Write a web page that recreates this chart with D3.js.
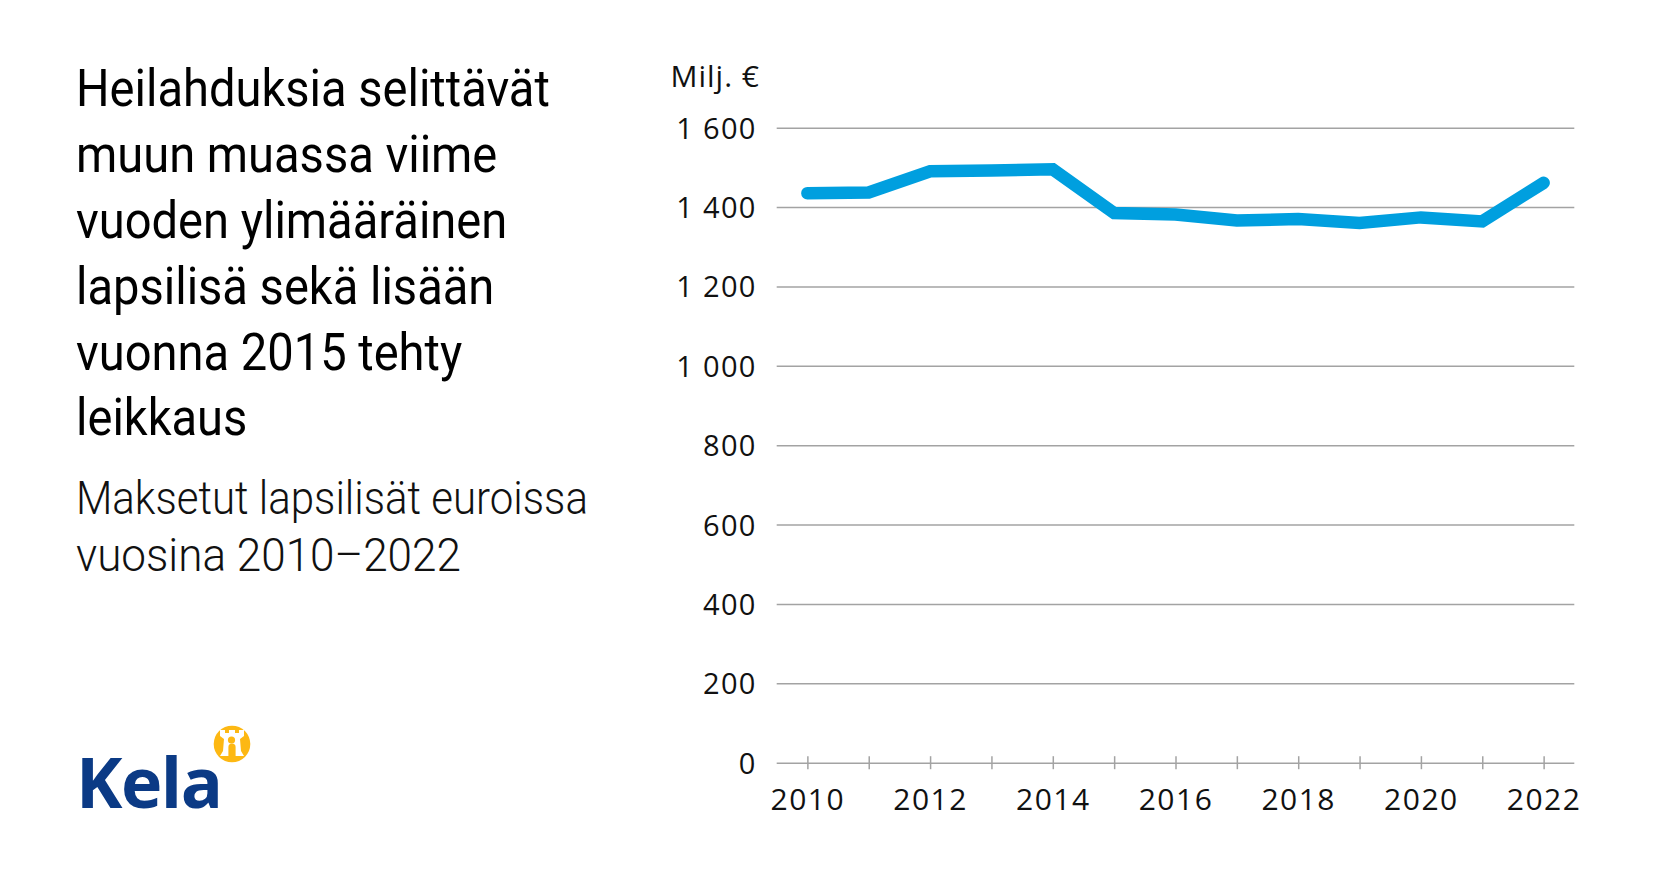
<!DOCTYPE html>
<html>
<head>
<meta charset="utf-8">
<script src="https://cdn.jsdelivr.net/npm/d3@7"></script>
<style>
  html, body { margin: 0; padding: 0; background: #fff; }
  svg { display: block; }
</style>
</head>
<body>
<svg id="chart" width="1662" height="870"></svg>
<script>
// ---- data ----
const years = [2010, 2011, 2012, 2013, 2014, 2015, 2016, 2017, 2018, 2019, 2020, 2021, 2022];
const values = [1435, 1437, 1490, 1492, 1495, 1385, 1381, 1366, 1370, 1360, 1374, 1364, 1461];
const yTicks = [0, 200, 400, 600, 800, 1000, 1200, 1400, 1600];
const yTickLabels = ["0", "200", "400", "600", "800", "1 000", "1 200", "1 400", "1 600"];
const xLabelYears = [2010, 2012, 2014, 2016, 2018, 2020, 2022];
const titleLines = ["Heilahduksia selittävät", "muun muassa viime", "vuoden ylimääräinen", "lapsilisä sekä lisään", "vuonna 2015 tehty", "leikkaus"];
const subtitleLines = ["Maksetut lapsilisät euroissa", "vuosina 2010–2022"];
const unitLabel = "Milj. €";
const logoText = "Kela";

// ---- layout ----
const svg = d3.select("#chart");
const plotLeft = 776.7, plotRight = 1574.3, plotTop = 127.7, plotBottom = 762.7;

const x = d3.scalePoint().domain(years).range([plotLeft, plotRight]).padding(0.5);
const y = d3.scaleLinear().domain([0, 1600]).range([plotBottom, plotTop]);

const axisFont = "'Open Sans', 'Noto Sans', sans-serif";

// y axis with gridlines
const yAxis = d3.axisLeft(y)
  .tickValues(yTicks)
  .tickFormat((d, i) => yTickLabels[i])
  .tickSizeInner(-(plotRight - plotLeft))
  .tickSizeOuter(0)
  .tickPadding(20);

const gy = svg.append("g").attr("transform", `translate(${plotLeft},0)`).call(yAxis);
gy.select(".domain").remove();
gy.selectAll(".tick line").attr("stroke", "#a3a3a3").attr("stroke-width", 1.5);
gy.selectAll(".tick text")
  .attr("font-family", axisFont).attr("font-size", 29).attr("fill", "#111")
  .attr("letter-spacing", "1.3px").attr("dy", "0.36em");

// x axis ticks + labels
const xAxis = d3.axisBottom(x)
  .tickValues(years)
  .tickFormat(d => xLabelYears.includes(d) ? d : "")
  .tickSizeOuter(0);
const gx = svg.append("g").attr("transform", `translate(0,${plotBottom})`).call(xAxis);
gx.select(".domain").remove();
gx.selectAll(".tick line").attr("y1", -6.5).attr("y2", 6.5).attr("stroke", "#a3a3a3").attr("stroke-width", 1.5);
gx.selectAll(".tick text")
  .attr("font-family", axisFont).attr("font-size", 30).attr("fill", "#111")
  .attr("letter-spacing", "1.5px").attr("y", 47).attr("dy", 0);

// unit label
svg.append("text")
  .attr("x", 760).attr("y", 87)
  .attr("text-anchor", "end")
  .attr("font-family", axisFont).attr("font-size", 30).attr("fill", "#111")
  .attr("letter-spacing", "1px")
  .text(unitLabel);

// line
const line = d3.line().x((d, i) => x(years[i])).y(d => y(d));
svg.append("path")
  .datum(values)
  .attr("d", line)
  .attr("fill", "none")
  .attr("stroke", "#009fdf")
  .attr("stroke-width", 12.5)
  .attr("stroke-linecap", "round")
  .attr("stroke-linejoin", "miter");

// ---- title ----
const titleG = svg.append("g");
const titleText = titleG.append("text")
  .attr("font-family", "Roboto, 'Noto Sans', sans-serif")
  .attr("font-weight", 400)
  .attr("font-size", 52)
  .attr("fill", "#000");
titleLines.forEach((t, i) => {
  titleText.append("tspan").attr("x", 0).attr("y", 106 + i * 65.9).text(t);
});
const tw = titleText.select("tspan").node().getComputedTextLength();
titleG.attr("transform", `translate(76,0) scale(${474 / tw},1)`);

// ---- subtitle (each line fitted separately) ----
const subTargets = [512, 385];
subtitleLines.forEach((t, i) => {
  const g = svg.append("g");
  const txt = g.append("text")
    .attr("x", 0).attr("y", 514 + i * 57)
    .attr("font-family", "Roboto, 'Noto Sans', sans-serif")
    .attr("font-weight", 300)
    .attr("font-size", 46)
    .attr("fill", "#111")
    .text(t);
  const w = txt.node().getComputedTextLength();
  g.attr("transform", `translate(76,0) scale(${subTargets[i] / w},1)`);
});

// ---- Kela logo ----
const logo = svg.append("g");
logo.append("text")
  .attr("x", 76).attr("y", 808)
  .attr("font-family", "'Open Sans', sans-serif")
  .attr("font-weight", 700)
  .attr("font-size", 70)
  .attr("letter-spacing", "-1.5px")
  .attr("fill", "#0b3a85")
  .text(logoText);
const cx = 232, cy = 744, r = 18.3;
logo.append("circle").attr("cx", cx).attr("cy", cy).attr("r", r).attr("fill", "#fdb813");
const p = d3.path();
p.moveTo(cx - 12, cy - 14);
p.lineTo(cx - 7, cy - 14); p.lineTo(cx - 7, cy - 11); p.lineTo(cx - 3, cy - 11); p.lineTo(cx - 3, cy - 14);
p.lineTo(cx + 3, cy - 14); p.lineTo(cx + 3, cy - 11); p.lineTo(cx + 7, cy - 11); p.lineTo(cx + 7, cy - 14);
p.lineTo(cx + 12, cy - 14);
p.lineTo(cx + 12, cy - 8);
p.lineTo(cx + 8, cy - 5);
p.lineTo(cx + 9, cy + 7);
p.lineTo(cx + 12, cy + 12);
p.lineTo(cx - 12, cy + 12);
p.lineTo(cx - 9, cy + 7);
p.lineTo(cx - 8, cy - 5);
p.lineTo(cx - 12, cy - 8);
p.closePath();
logo.append("path").attr("d", p.toString()).attr("fill", "#fff");
logo.append("circle").attr("cx", cx - 0.5).attr("cy", cy - 4).attr("r", 3.6).attr("fill", "#fdb813");
const a = d3.path();
a.moveTo(cx - 3.6, cy + 12);
a.lineTo(cx - 3.6, cy + 3);
a.arc(cx, cy + 3, 3.6, Math.PI, 0);
a.lineTo(cx + 3.6, cy + 12);
a.closePath();
logo.append("path").attr("d", a.toString()).attr("fill", "#fdb813");
</script>
</body>
</html>
